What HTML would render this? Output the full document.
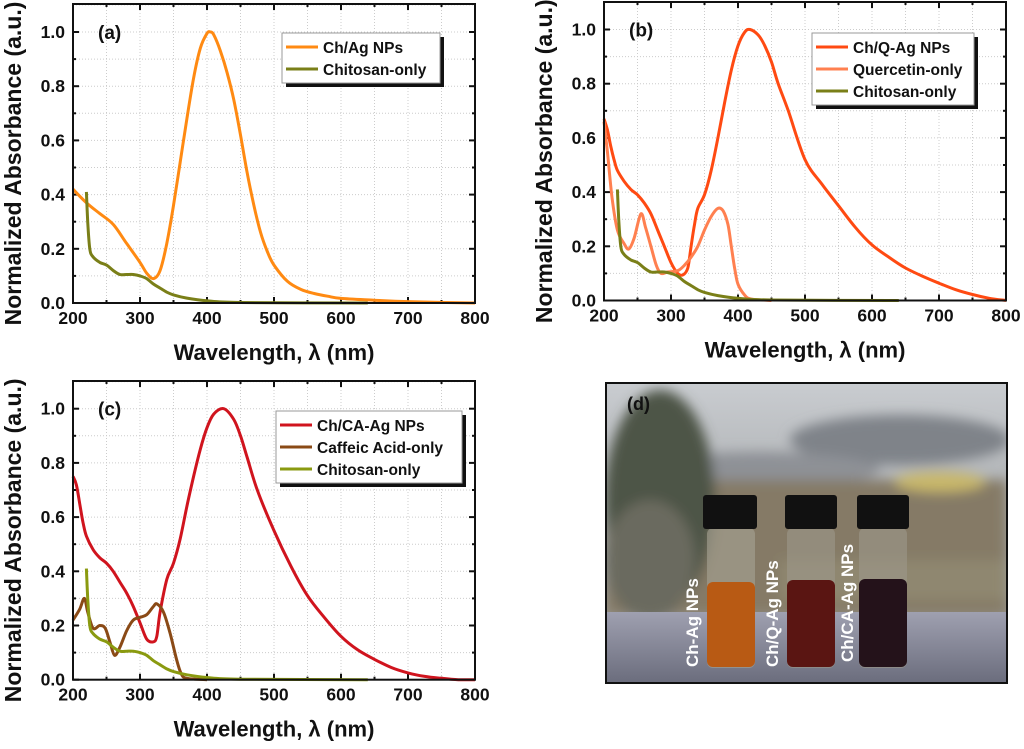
<!DOCTYPE html>
<html><head><meta charset="utf-8"><style>
body{margin:0;background:#fff;width:1024px;height:744px;overflow:hidden;font-family:"Liberation Sans",sans-serif}
svg text{font-family:"Liberation Sans",sans-serif;font-weight:bold}
</style></head><body>
<svg id="fig" width="1024" height="744">
<defs>
<linearGradient id="sky" x1="0" y1="0" x2="0" y2="1"><stop offset="0" stop-color="#c9ccd0"/><stop offset="0.5" stop-color="#a6a9ab"/><stop offset="1" stop-color="#8d877a"/></linearGradient>
<linearGradient id="table" x1="0" y1="0" x2="0" y2="1"><stop offset="0" stop-color="#9fa0b0"/><stop offset="1" stop-color="#6a6c7c"/></linearGradient>
<filter id="blur"><feGaussianBlur stdDeviation="6"/></filter>
<clipPath id="photoClip"><rect x="606" y="383" width="401" height="300"/></clipPath>
</defs>
<g id="photo" clip-path="url(#photoClip)">
<rect x="606" y="383" width="401" height="300" fill="url(#sky)"/>
<g filter="url(#blur)">
<ellipse cx="900" cy="440" rx="110" ry="25" fill="#7f8389"/>
<ellipse cx="760" cy="470" rx="120" ry="18" fill="#8e9196"/>
<rect x="606" y="480" width="401" height="135" fill="#857a66"/>
<ellipse cx="940" cy="482" rx="45" ry="10" fill="#c9b86a"/>
<ellipse cx="660" cy="500" rx="55" ry="110" fill="#4d5447"/>
<ellipse cx="650" cy="560" rx="45" ry="60" fill="#6a6a5e"/>
<rect x="780" y="560" width="227" height="40" fill="#8f876f"/>
</g>
<rect x="606" y="612" width="401" height="72" fill="url(#table)"/>
<g>
<rect x="707" y="528" width="48" height="140" rx="6" fill="#a7a394" opacity="0.6"/>
<rect x="707" y="582" width="48" height="85" rx="6" fill="#b85a14"/>
<rect x="703" y="495" width="54" height="34" rx="3" fill="#111"/>
</g>
<g>
<rect x="787" y="528" width="48" height="140" rx="6" fill="#9c988b" opacity="0.6"/>
<rect x="787" y="580" width="48" height="87" rx="6" fill="#5a1512"/>
<rect x="785" y="495" width="52" height="34" rx="3" fill="#111"/>
</g>
<g>
<rect x="859" y="528" width="48" height="140" rx="6" fill="#9c988b" opacity="0.6"/>
<rect x="859" y="579" width="48" height="88" rx="6" fill="#24121a"/>
<rect x="857" y="495" width="52" height="34" rx="3" fill="#111"/>
</g>
<text transform="translate(698,667) rotate(-90)" font-size="17" fill="#fff">Ch-Ag NPs</text>
<text transform="translate(778,667) rotate(-90)" font-size="17" fill="#fff">Ch/Q-Ag NPs</text>
<text transform="translate(853,662) rotate(-90)" font-size="17" fill="#fff">Ch/CA-Ag NPs</text>
<text x="627" y="410" font-size="18" fill="#111">(d)</text>
</g>
<rect x="606" y="383" width="401" height="300" fill="none" stroke="#111" stroke-width="2"/>
</svg>
<script>
// shared chitosan series
const chitX=[220,222,225,230,240,250,260,270,280,290,300,310,320,330,340,350,370,400,450,640];
const chitY=[0.41,0.3,0.2,0.17,0.15,0.14,0.12,0.105,0.105,0.105,0.1,0.09,0.07,0.055,0.04,0.03,0.018,0.008,0.002,0];
// panel a
const agX=[200,220,240,260,280,300,310,320,330,340,350,360,370,380,390,400,405,410,420,430,440,450,460,470,480,490,500,520,540,560,580,600,650,700,800];
const agY=[0.42,0.37,0.33,0.29,0.22,0.15,0.11,0.09,0.12,0.22,0.36,0.52,0.68,0.83,0.94,0.995,1.0,0.99,0.93,0.85,0.75,0.62,0.48,0.36,0.26,0.19,0.14,0.08,0.05,0.035,0.025,0.017,0.01,0.005,0];
// panel b
const qagX=[200,205,210,215,220,230,240,250,260,270,280,290,300,310,318,325,330,335,340,350,360,370,380,390,400,410,418,430,440,450,460,475,500,525,550,575,600,625,650,675,700,725,750,775,800];
const qagY=[0.67,0.63,0.57,0.52,0.48,0.44,0.41,0.39,0.36,0.32,0.26,0.2,0.14,0.1,0.095,0.12,0.2,0.28,0.34,0.39,0.48,0.6,0.73,0.85,0.94,0.99,1.0,0.98,0.94,0.88,0.8,0.7,0.52,0.43,0.35,0.27,0.205,0.16,0.12,0.09,0.064,0.04,0.022,0.008,0];
const querX=[200,205,212,220,230,237,245,255,262,270,278,285,295,310,320,330,340,350,360,370,378,385,390,395,400,410,420,450];
const querY=[0.66,0.55,0.38,0.26,0.21,0.19,0.23,0.32,0.27,0.2,0.13,0.1,0.105,0.11,0.13,0.16,0.2,0.26,0.31,0.34,0.33,0.28,0.2,0.12,0.06,0.02,0.005,0];
// panel c
const caagX=[200,205,210,215,220,230,240,250,260,270,280,290,300,310,320,325,330,340,350,360,370,380,390,400,410,425,440,450,460,475,500,525,550,575,600,625,650,675,700,725,750,775,800];
const caagY=[0.75,0.72,0.65,0.58,0.53,0.48,0.45,0.43,0.4,0.36,0.32,0.27,0.21,0.15,0.14,0.16,0.25,0.37,0.43,0.52,0.64,0.75,0.85,0.93,0.98,1.0,0.96,0.9,0.82,0.7,0.55,0.42,0.31,0.23,0.16,0.11,0.075,0.045,0.025,0.012,0.005,0,0];
const cafX=[200,210,217,222,230,240,248,255,262,270,280,290,300,310,320,325,335,345,355,362,370,400];
const cafY=[0.22,0.26,0.3,0.25,0.19,0.2,0.19,0.14,0.09,0.12,0.18,0.22,0.23,0.24,0.27,0.28,0.25,0.17,0.07,0.02,0.005,0];
const xTicks=[200,300,400,500,600,700,800];
const yTicks=[0,0.2,0.4,0.6,0.8,1.0];

const NS='http://www.w3.org/2000/svg';
const svg=document.getElementById('fig');
function mk(tag,attrs,parent){const e=document.createElementNS(NS,tag);for(const k in attrs)e.setAttribute(k,attrs[k]);(parent||svg).appendChild(e);return e;}
function smooth(pts){
  let d='M'+pts[0][0].toFixed(1)+','+pts[0][1].toFixed(1);
  for(let i=0;i<pts.length-1;i++){
    const p0=pts[Math.max(0,i-1)],p1=pts[i],p2=pts[i+1],p3=pts[Math.min(pts.length-1,i+2)];
    const c1=[p1[0]+(p2[0]-p0[0])/6,p1[1]+(p2[1]-p0[1])/6];
    const c2=[p2[0]-(p3[0]-p1[0])/6,p2[1]-(p3[1]-p1[1])/6];
    d+='C'+c1.map(v=>v.toFixed(1)).join(',')+' '+c2.map(v=>v.toFixed(1)).join(',')+' '+p2[0].toFixed(1)+','+p2[1].toFixed(1);
  }
  return d;
}

function panel(p){
  const g=mk('g',{});
  
  
  const L=p.x0,R=p.x1,B=p.y0px,T1=p.y1px,top=p.top;
  const sx=v=>L+(v-200)/600*(R-L);
  const sy=v=>B-v*(B-T1);
  for(let v=250;v<800;v+=50){mk('line',{x1:sx(v),x2:sx(v),y1:top,y2:B,stroke:'#ccc','stroke-dasharray':'1,2','stroke-width':1},g);}
  for(let v=0.1;v<1.1;v+=0.1){mk('line',{x1:L,x2:R,y1:sy(v),y2:sy(v),stroke:'#ccc','stroke-dasharray':'1,2','stroke-width':1},g);}
  for(let v=200;v<=800;v+=50){const len=(v%100===0)?6:3;
    mk('line',{x1:sx(v),x2:sx(v),y1:B,y2:B-len,stroke:'#111','stroke-width':2},g);
    mk('line',{x1:sx(v),x2:sx(v),y1:top,y2:top+len,stroke:'#111','stroke-width':2},g);}
  for(let i=0;i<=10;i++){const v=i/10;const len=(i%2===0)?6:3;
    mk('line',{x1:L,x2:L+len,y1:sy(v),y2:sy(v),stroke:'#111','stroke-width':2},g);
    mk('line',{x1:R,x2:R-len,y1:sy(v),y2:sy(v),stroke:'#111','stroke-width':2},g);}
  xTicks.forEach(v=>{const t=mk('text',{x:sx(v),y:B+21,'font-size':17.5,'text-anchor':'middle',fill:'#111'},g);t.textContent=v;
    
    });
  yTicks.forEach(v=>{const t=mk('text',{x:L-8,y:sy(v)+6,'font-size':17.5,'text-anchor':'end',fill:'#111'},g);t.textContent=v.toFixed(1);
    
    });
  p.series.forEach(s=>{
    const pts=s.x.map((v,i)=>[sx(v),sy(s.y[i])]);
    const path=mk('path',{d:smooth(pts),fill:'none',stroke:s.c,'stroke-width':s.w||3,'stroke-linejoin':'round'},g);
    
    
  });
  mk('rect',{x:L,y:top,width:R-L,height:B-top,fill:'none',stroke:'#111','stroke-width':2},g);
  const xt=mk('text',{x:(L+R)/2,y:B+57,'font-size':22,'text-anchor':'middle',fill:'#111'},g);
  xt.textContent='Wavelength, λ (nm)';
  
  
  const yt=mk('text',{transform:`translate(${L-52},${(top+B)/2+10}) rotate(-90)`,'font-size':23,'text-anchor':'middle',fill:'#111'},g);
  yt.textContent='Normalized Absorbance (a.u.)';
  
  
  const pl=mk('text',{x:L+25,y:sy(1.0)+7,'font-size':19,fill:'#111'},g);
  pl.textContent='('+p.id+')';
  
  
  const lg=mk('g',{},g);
  
  
  const h=p.series.length*22+6;
  mk('rect',{x:p.lx+4,y:p.ly+4,width:p.lw,height:h,fill:'#111'},lg);
  mk('rect',{x:p.lx,y:p.ly,width:p.lw,height:h,fill:'#fff',stroke:'#999','stroke-width':1},lg);
  p.series.forEach((s,i)=>{const yy=p.ly+14+i*22;
    mk('line',{x1:p.lx+4,x2:p.lx+36,y1:yy,y2:yy,stroke:s.c,'stroke-width':3},lg);
    const t=mk('text',{x:p.lx+41,y:yy+6,'font-size':15.5,fill:'#111'},lg);t.textContent=s.label;
    
    });
}
const olive='#7a7f18';
panel({id:'a',x0:73,x1:475,y0px:303,y1px:32,top:4,lx:282,ly:33,lw:158,series:[
  {n:'ch-ag',label:'Ch/Ag NPs',c:'#ff8a12',x:agX,y:agY},
  {n:'chitosan',label:'Chitosan-only',c:olive,x:chitX,y:chitY}]});
panel({id:'b',x0:604,x1:1006,y0px:300.5,y1px:29.5,top:2,lx:812,ly:33,lw:162,series:[
  {n:'ch-q-ag',label:'Ch/Q-Ag NPs',c:'#ff4a12',x:qagX,y:qagY},
  {n:'quercetin',label:'Quercetin-only',c:'#ff8050',x:querX,y:querY},
  {n:'chitosan',label:'Chitosan-only',c:olive,x:chitX,y:chitY}]});
panel({id:'c',x0:73,x1:475,y0px:679.7,y1px:408.7,top:381,lx:276,ly:411,lw:186,series:[
  {n:'ch-ca-ag',label:'Ch/CA-Ag NPs',c:'#d0141e',x:caagX,y:caagY},
  {n:'caffeic-acid',label:'Caffeic Acid-only',c:'#8a4a16',x:cafX,y:cafY},
  {n:'chitosan',label:'Chitosan-only',c:'#8a9a10',x:chitX,y:chitY}]});
</script>
</body></html>
